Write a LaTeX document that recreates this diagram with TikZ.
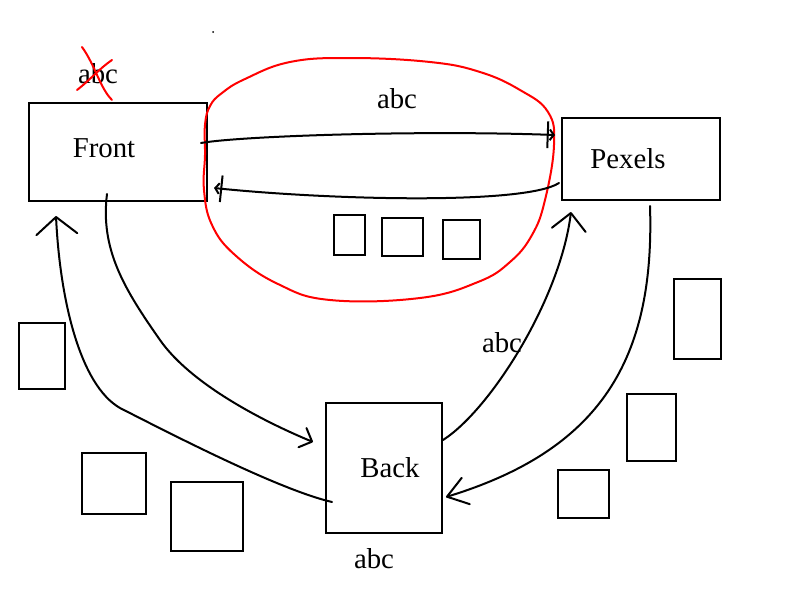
\documentclass[tikz,border=0pt]{standalone}
\usepackage{fontspec}
\setmainfont{Liberation Serif}
\usetikzlibrary{arrows.meta}
\usetikzlibrary{calc}

\begin{document}
\begin{tikzpicture}[x=0.75pt,y=0.75pt,yscale=-1,xscale=1,
  box/.style={draw, line width=1.5, inner sep=0pt},
  txt/.style={anchor=base, inner sep=0.75pt, font=\fontsize{21.6}{26}\selectfont},
  conn/.style={line width=1.5, line cap=round, line join=round},
  barend/.style={-{Bar[width=20pt] Straight Barb[length=3pt,width=8pt]}},
  opentip/.style={-{Straight Barb[angle=#1, round]}},
  redpen/.style={color=red, line width=1.5, line cap=round, line join=round}]
    \useasboundingbox (0,0) rectangle (800,600);

    % Boxes
    \draw (118,152) node [box, minimum width=133.5pt, minimum height=73.5pt] (front) {};
    \draw (641,159) node [box, minimum width=118.5pt, minimum height=61.5pt] (pexels) {};
    \draw (384,468) node [box, minimum width=87pt, minimum height=97.5pt] (back) {};

    % Text Node
    \draw (104,157) node [txt] (frontlbl) {Front};
    % Text Node
    \draw (628,168) node [txt] (pexelslbl) {Pexels};
    % Text Node
    \draw (390,477) node [txt] (backlbl) {Back};
    % Text Node
    \draw (98,83) node [txt] (abcstruck) {abc};
    % Text Node
    \draw (397,108) node [txt] (abctop) {abc};
    % Text Node
    \draw (502,352) node [txt] (abcright) {abc};
    % Text Node
    \draw (374,568) node [txt] (abcbottom) {abc};

    % Red cross over abc
    \draw [redpen] (82,47) .. controls (95,65) and (100,88) .. (112,100) ;
    \draw [redpen] (77,90) .. controls (90,80) and (100,68) .. (112,60) ;

    % Red loop
    \draw [redpen] plot [smooth cycle, tension=0.7] coordinates {(205,125) (210,106) (222,93) (245,79) (290,62) (350,58) (430,62) (480,72) (520,90) (548,112) (554,145) (545,200) (532,235) (510,262) (478,282) (420,298) (330,300) (278,284) (235,255) (212,225) (204,190) (205,155)} ;

    % Stray dot
    \fill (213,32) circle [radius=1] ;

    % Shape: Rectangle
    \draw [line width=1.5] (334,215) -- (365,215) -- (365,255) -- (334,255) -- cycle ;
    % Shape: Rectangle
    \draw [line width=1.5] (382,218) -- (423,218) -- (423,256) -- (382,256) -- cycle ;
    % Shape: Rectangle
    \draw [line width=1.5] (443,220) -- (480,220) -- (480,259) -- (443,259) -- cycle ;
    % Shape: Rectangle
    \draw [line width=1.5] (19,323) -- (65,323) -- (65,389) -- (19,389) -- cycle ;
    % Shape: Rectangle
    \draw [line width=1.5] (82,453) -- (146,453) -- (146,514) -- (82,514) -- cycle ;
    % Shape: Rectangle
    \draw [line width=1.5] (171,482) -- (243,482) -- (243,551) -- (171,551) -- cycle ;
    % Shape: Rectangle
    \draw [line width=1.5] (674,279) -- (721,279) -- (721,359) -- (674,359) -- cycle ;
    % Shape: Rectangle
    \draw [line width=1.5] (627,394) -- (676,394) -- (676,461) -- (627,461) -- cycle ;
    % Shape: Rectangle
    \draw [line width=1.5] (558,470) -- (609,470) -- (609,518) -- (558,518) -- cycle ;

    % Connectors
    \draw [conn, barend] ($(front.east)+(-7,-9)$) .. controls (240,136) and (420,130) .. ($(pexels.west)+(-6,-24)$) ;
    \draw [conn, barend] ($(pexels.west)+(-2,24)$) .. controls (525,205) and (330,200) .. ($(front.east)+(6,36)$) ;
    \draw [conn, opentip={90:11pt}] ($(front.south)+(-11,-8)$) .. controls (100,250) and (125,290) .. (160,340) .. controls (190,383) and (260,420) .. ($(back.west)+(-12,-26)$) ;
    \draw [conn, opentip={100:20pt}] ($(back.west)+(7,34)$) .. controls (280,490) and (175,436) .. (120,408) .. controls (80,385) and (60,300) .. ($(front.south west)+(28,14)$) ;
    \draw [conn, opentip={90:18pt}] ($(back.east)+(0,-28)$) .. controls (490,410) and (560,300) .. ($(pexels.south west)+(10,11)$) ;
    \draw [conn, opentip={70:18pt}] ($(pexels.south)+(9,5)$) .. controls (655,360) and (600,450) .. ($(back.east)+(3,29)$) ;
\end{tikzpicture}
\end{document}
